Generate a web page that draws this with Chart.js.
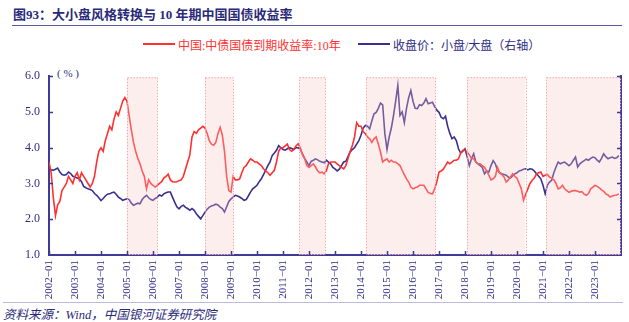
<!DOCTYPE html>
<html><head><meta charset="utf-8">
<script src="https://cdn.jsdelivr.net/npm/chart.js@4.4.1/dist/chart.umd.min.js"></script>
<style>
html,body{margin:0;padding:0;background:#fff;width:629px;height:322px;overflow:hidden;}
body{position:relative;font-family:"Liberation Serif","Noto Sans CJK SC",serif;}
#title{position:absolute;left:13px;top:4px;font-size:13px;font-weight:bold;color:#2a2a78;white-space:nowrap;font-family:"Liberation Serif","Noto Sans CJK SC",sans-serif;}
#tline{position:absolute;left:12px;top:25px;width:610px;height:0;border-top:1.5px solid #5d58a3;}
.leg{position:absolute;top:36px;font-size:12px;white-space:nowrap;font-family:"Liberation Serif","Noto Sans CJK SC",serif;}
.sw{position:absolute;top:43px;height:0;width:32px;border-top:2px solid;}
#unit{position:absolute;left:57px;top:67px;font-size:11px;color:#2e2d86;white-space:pre;font-family:"Liberation Serif","Noto Sans CJK SC",serif;}
#sline{position:absolute;left:3px;top:302px;width:620px;height:0;border-top:1.5px solid #bdb9da;}
#src{position:absolute;left:3px;top:304px;font-size:12.5px;font-style:italic;color:#2a2a78;white-space:nowrap;font-family:"Liberation Serif","Noto Sans CJK SC",serif;}
#wrap{position:absolute;left:0;top:60px;width:629px;height:242px;}
</style></head>
<body>
<div id="title">图93：大小盘风格转换与 10 年期中国国债收益率</div>
<div id="tline"></div>
<div class="sw" style="left:143px;border-color:#ff3030"></div>
<div class="leg" style="left:178px;color:#ff3030">中国:中债国债到期收益率:10年</div>
<div class="sw" style="left:358px;border-color:#3a2f8f"></div>
<div class="leg" style="left:393px;color:#2e2d86">收盘价：小盘/大盘（右轴）</div>
<div id="unit">( % )</div>
<div id="wrap"><canvas id="c" width="629" height="242"></canvas></div>
<div id="sline"></div>
<div id="src">资料来源：Wind，中国银河证券研究院</div>
<script>
// monthly series, 2002-01 .. 2023-12
const years = [2002,2003,2004,2005,2006,2007,2008,2009,2010,2011,2012,2013,2014,2015,2016,2017,2018,2019,2020,2021,2022,2023];
const tickLabels = years.map(y => y + '\u221201');

const yield10y = [
 3.6,3.3,2.6,2.1,2.4,2.5,2.8,2.9,3.0,3.2,3.1,3.0,
 3.2,3.3,3.1,3.3,3.2,3.1,3.0,2.9,3.0,3.2,3.6,3.9,
 4.0,3.9,4.2,4.4,4.6,4.5,4.8,5.0,4.9,5.1,5.3,5.4,
 5.3,4.9,4.5,4.15,3.9,3.7,3.55,3.35,3.2,2.85,3.1,3.0,
 2.95,2.9,2.95,3.0,3.05,3.15,3.2,3.26,3.1,3.05,3.04,3.05,
 3.08,3.1,3.2,3.4,3.6,3.8,4.3,4.45,4.4,4.5,4.55,4.6,
 4.55,4.4,4.2,4.1,4.07,4.15,4.4,4.57,4.35,3.9,3.2,2.8,
 2.76,3.2,3.1,3.1,3.13,3.3,3.45,3.5,3.6,3.69,3.65,3.6,
 3.6,3.55,3.5,3.41,3.35,3.3,3.23,3.3,3.37,3.6,3.9,4.0,
 4.0,4.05,4.1,3.95,3.9,3.95,4.05,4.11,4.0,3.8,3.69,3.5,
 3.45,3.5,3.55,3.46,3.35,3.3,3.32,3.27,3.35,3.55,3.6,3.6,
 3.6,3.55,3.5,3.45,3.41,3.5,3.7,3.9,4.06,4.3,4.7,4.6,
 4.6,4.45,4.39,4.3,4.25,4.15,4.25,4.3,4.1,3.88,3.6,3.65,
 3.69,3.6,3.65,3.6,3.6,3.55,3.5,3.37,3.25,3.13,3.04,2.9,
 2.85,2.88,2.9,2.95,2.95,2.95,2.85,2.75,2.72,2.71,2.85,3.05,
 3.32,3.35,3.4,3.5,3.6,3.55,3.6,3.65,3.65,3.69,3.85,3.93,
 3.93,3.88,3.8,3.7,3.69,3.6,3.55,3.55,3.5,3.45,3.35,3.23,
 3.1,3.13,3.2,3.45,3.3,3.25,3.18,3.04,3.1,3.18,3.27,3.2,
 3.15,3.0,2.85,2.53,2.7,2.85,3.0,3.09,3.15,3.27,3.3,3.32,
 3.2,3.23,3.25,3.18,3.15,3.1,3.0,2.85,2.88,2.95,2.85,2.8,
 2.75,2.78,2.8,2.8,2.78,2.76,2.77,2.7,2.67,2.72,2.85,2.9,
 2.95,2.92,2.88,2.82,2.78,2.71,2.68,2.62,2.65,2.67,2.68,2.71
];

const smallLargeRatio = [
 3.41,3.38,3.37,3.40,3.43,3.32,3.25,3.23,3.25,3.32,3.28,3.20,
 3.18,3.15,3.13,3.05,2.92,2.88,2.85,2.83,2.80,2.72,2.67,2.60,
 2.52,2.58,2.65,2.70,2.71,2.74,2.76,2.70,2.62,2.58,2.53,2.55,
 2.57,2.55,2.45,2.39,2.42,2.45,2.43,2.55,2.62,2.67,2.60,2.55,
 2.53,2.58,2.62,2.68,2.65,2.71,2.74,2.76,2.76,2.62,2.48,2.35,
 2.29,2.36,2.39,2.33,2.30,2.25,2.30,2.25,2.15,2.08,2.01,2.10,
 2.20,2.28,2.34,2.37,2.39,2.42,2.40,2.34,2.30,2.20,2.35,2.50,
 2.57,2.62,2.67,2.65,2.62,2.58,2.53,2.55,2.65,2.76,2.85,2.90,
 2.95,3.05,3.13,3.25,3.37,3.50,3.60,3.78,3.85,3.93,4.06,4.00,
 3.95,3.93,3.97,4.00,3.98,3.95,4.00,4.00,3.95,3.83,3.70,3.60,
 3.50,3.62,3.65,3.69,3.66,3.62,3.60,3.58,3.65,3.60,3.55,3.45,
 3.41,3.35,3.40,3.50,3.60,3.62,3.75,3.88,3.95,4.00,4.10,4.20,
 4.35,4.55,4.62,4.60,4.53,4.75,4.95,4.99,5.10,5.25,5.20,4.40,
 3.95,4.30,4.55,4.90,5.30,5.74,4.90,5.00,4.70,5.10,5.40,5.60,
 5.30,5.10,5.09,5.20,5.18,5.25,5.37,5.23,5.25,5.27,5.15,5.05,
 4.99,4.85,4.81,4.88,4.60,4.40,4.25,4.30,4.20,3.97,3.85,3.90,
 3.97,3.75,3.50,3.69,3.83,3.60,3.55,3.50,3.45,3.27,3.35,3.32,
 3.50,3.64,3.55,3.37,3.30,3.27,3.25,3.23,3.18,3.15,3.22,3.27,
 3.30,3.35,3.37,3.40,3.41,3.38,3.41,3.40,3.35,3.27,3.20,3.13,
 2.95,2.71,2.95,3.04,3.09,3.30,3.46,3.60,3.55,3.58,3.60,3.55,
 3.50,3.55,3.65,3.74,3.46,3.55,3.60,3.64,3.68,3.65,3.70,3.74,
 3.72,3.65,3.60,3.70,3.83,3.75,3.69,3.72,3.74,3.70,3.72,3.78
];

// shaded periods, in months from 2002-01
const shadeStart = [36, 72, 115.6, 146.3, 192.8, 229.4];
const shadeEnd   = [50, 85, 127.5, 178.2, 219.8, 264];

const axisColor = '#3f3a96';
const textColor = '#2e2d86';

const toPts = arr => arr.map((v,i)=>({x:i,y:v}));

const shadePlugin = {
  id:'shade',
  afterDatasetsDraw(chart){
    const {ctx, chartArea:a, scales:{x}} = chart;
    ctx.save();
    for(let k=0;k<shadeStart.length;k++){
      const x0 = x.getPixelForValue(shadeStart[k]);
      const x1 = Math.min(x.getPixelForValue(shadeEnd[k]), a.right-1);
      ctx.fillStyle = 'rgba(248,200,200,0.3)';
      ctx.fillRect(x0, a.top+1, x1-x0, a.bottom-a.top-1);
      ctx.strokeStyle = '#f5a9ae';
      ctx.lineWidth = 1;
      ctx.setLineDash([1.5,1.5]);
      ctx.strokeRect(Math.round(x0)+0.5, a.top+1.5, Math.round(x1-x0), a.bottom-a.top-2);
    }
    ctx.restore();
  },
  afterDraw(chart){
    const {ctx, chartArea:a, scales:{x,y}} = chart;
    ctx.save();
    ctx.strokeStyle = axisColor; ctx.lineWidth = 1.5;
    ctx.beginPath();
    for(let m=0;m<=252;m+=12){
      const px = Math.round(x.getPixelForValue(m))+0.5;
      ctx.moveTo(px,a.bottom); ctx.lineTo(px,a.bottom-4);
    }
    for(let v=2;v<=6;v++){
      const py = Math.round(y.getPixelForValue(v))+0.5;
      ctx.moveTo(a.left,py); ctx.lineTo(a.left+4,py);
      ctx.moveTo(a.right,py); ctx.lineTo(a.right-4,py);
    }
    ctx.stroke();
    ctx.restore();
  }
};

new Chart(document.getElementById('c'), {
  type:'line',
  data:{datasets:[
    {label:'中国:中债国债到期收益率:10年', data:toPts(yield10y), borderColor:'#ff3030', borderWidth:1.6, pointRadius:0, tension:0, yAxisID:'y'},
    {label:'收盘价：小盘/大盘（右轴）', data:toPts(smallLargeRatio), borderColor:'#3a2f8f', borderWidth:1.6, pointRadius:0, tension:0, yAxisID:'y1'}
  ]},
  options:{
    responsive:false, animation:false, devicePixelRatio:1,
    layout:{padding:{top:14,right:0,left:0,bottom:0}},
    plugins:{legend:{display:false}, tooltip:{enabled:false}},
    scales:{
      x:{type:'linear', min:0, max:264,
        afterBuildTicks(s){ s.ticks = years.map((yy,i)=>({value:i*12})); },
        afterFit(s){ s.height = 47; },
        grid:{display:true, drawOnChartArea:false, drawTicks:false},
        border:{color:axisColor, width:2},
        ticks:{padding:5, autoSkip:false, maxRotation:90, minRotation:90, color:textColor,
          font:{family:'Liberation Serif', size:11},
          callback:(v,i)=> tickLabels[i]}
      },
      y:{position:'left', min:1, max:6,
        afterFit(s){ s.width = 49; },
        grid:{display:true, drawOnChartArea:false, drawTicks:false},
        border:{color:axisColor, width:2},
        ticks:{stepSize:1, padding:9, color:textColor, font:{family:'Liberation Serif', size:12}, callback:v=>v.toFixed(1)}
      },
      y1:{position:'right', min:1, max:6,
        afterFit(s){ s.width = 8; },
        grid:{display:true, drawOnChartArea:false, drawTicks:false},
        border:{color:axisColor, width:2},
        ticks:{display:false, stepSize:1}
      }
    }
  },
  plugins:[shadePlugin]
});
</script>
</body></html>
